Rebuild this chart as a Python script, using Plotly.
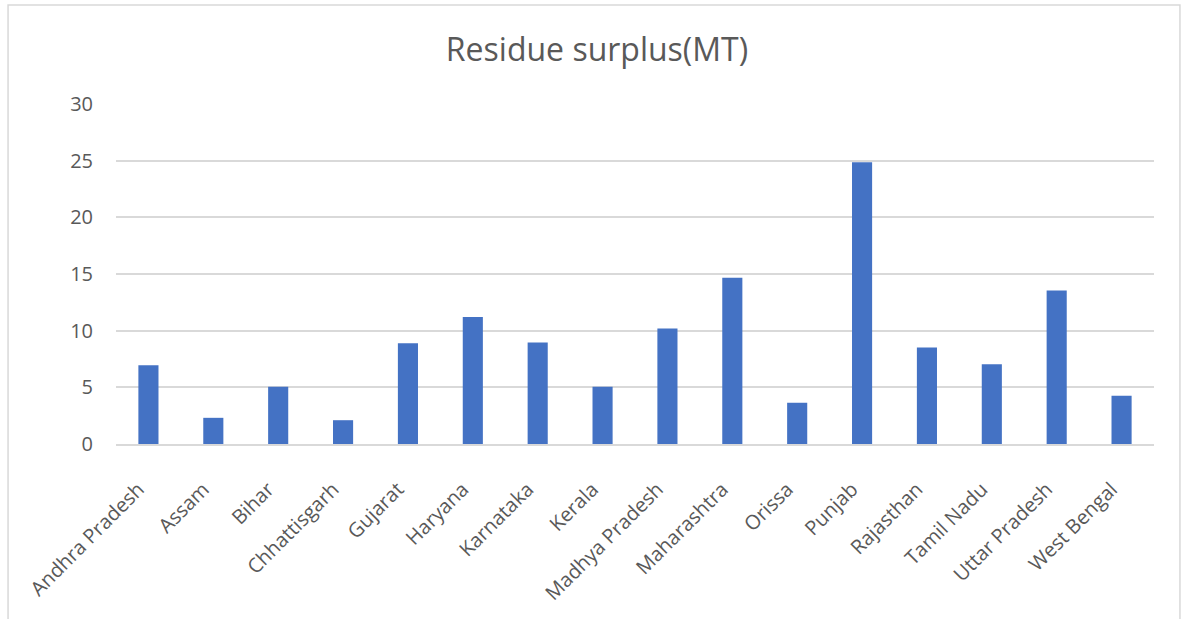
import plotly.graph_objects as go

states = ["Andhra Pradesh", "Assam", "Bihar", "Chhattisgarh", "Gujarat", "Haryana",
          "Karnataka", "Kerala", "Madhya Pradesh", "Maharashtra", "Orissa", "Punjab",
          "Rajasthan", "Tamil Nadu", "Uttar Pradesh", "West Bengal"]
surplus = [6.95, 2.31, 5.06, 2.10, 8.90, 11.20, 8.96, 5.05, 10.20, 14.67, 3.64, 24.87,
           8.52, 7.04, 13.54, 4.26]
y_ticks = [0, 5, 10, 15, 20, 25, 30]

FONT = "Open Sans"
TXT = "#595959"

fig = go.Figure(go.Bar(x=states, y=surplus, marker=dict(color="#4472C4", line=dict(width=0))))

fig.update_layout(
    width=1184, height=619,
    margin=dict(l=116, r=30, t=104, b=175),
    paper_bgcolor="white", plot_bgcolor="white",
    bargap=0.69,
    showlegend=False,
    title=dict(text="Residue surplus(MT)", x=597 / 1184, xref="container", xanchor="center",
               y=1 - 50 / 619, yref="container", yanchor="middle",
               font=dict(family=FONT, size=32, color=TXT)),
    font=dict(family=FONT, color=TXT),
    xaxis=dict(tickangle=-45, tickfont=dict(family=FONT, size=20, color=TXT),
               showgrid=False, showline=True, linecolor="#D9D9D9", linewidth=1.5,
               ticks="", ticklabelstandoff=24, ticklabelshift=-10),
    yaxis=dict(range=[0, 30], tickvals=y_ticks, showgrid=True, gridcolor="#D9D9D9",
               gridwidth=1.5, zeroline=False, showline=False, ticks="",
               ticklabelstandoff=22,
               tickfont=dict(family=FONT, size=20, color=TXT)),
    shapes=[dict(type="path", xref="paper", yref="paper",
                 path="M -0.104 -0.7 L -0.104 1.291 L 1.025 1.291 L 1.025 -0.7",
                 line=dict(color="#D9D9D9", width=1.5))],
)

fig.write_html("out.html")
